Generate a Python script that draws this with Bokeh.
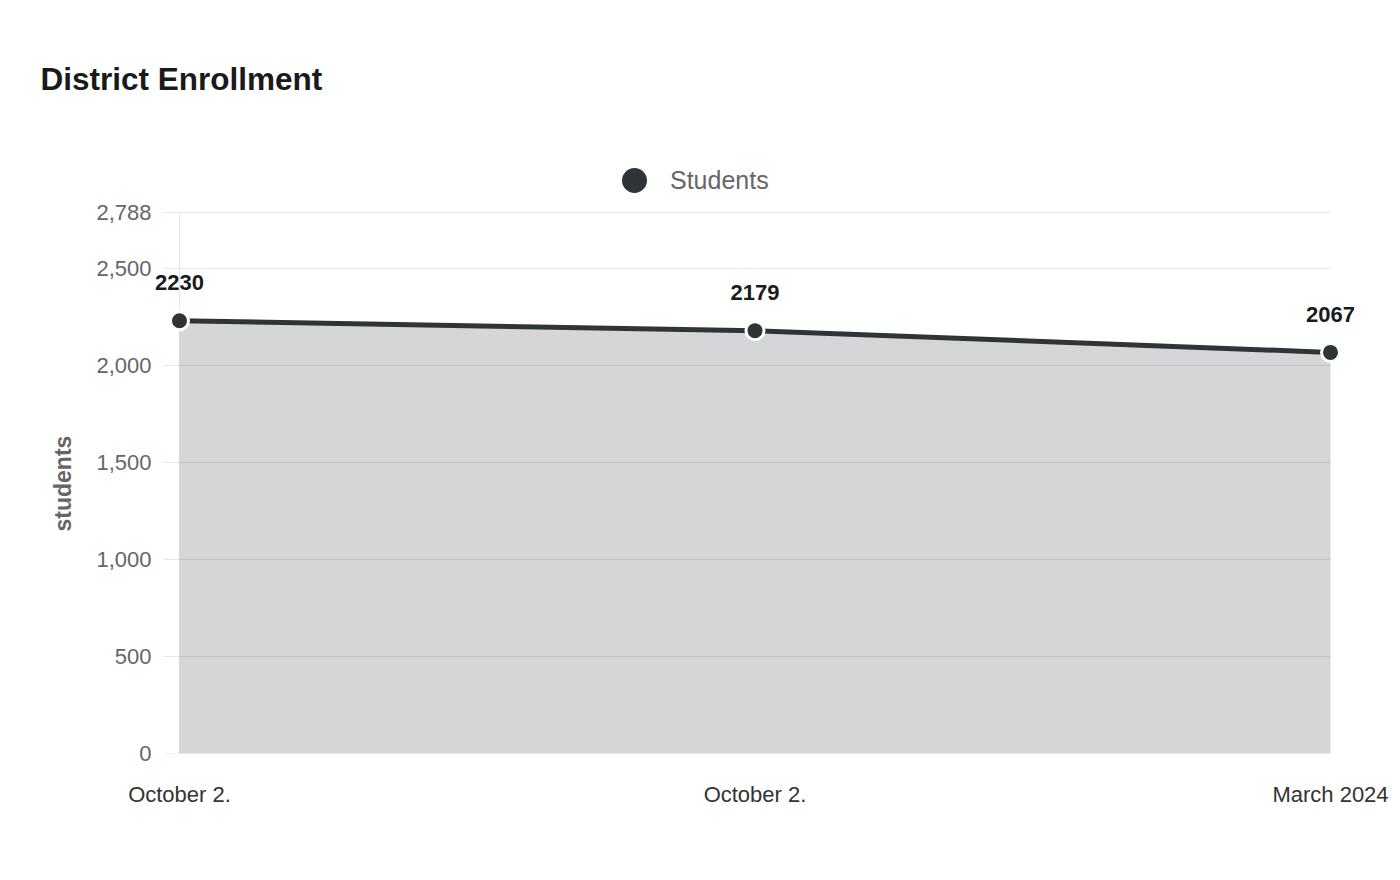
from bokeh.plotting import figure
from bokeh.models import (ColumnDataSource, Range1d, FixedTicker, NumeralTickFormatter,
                          LabelSet, Legend, LegendItem, Title)
from bokeh.core.properties import value
from bokeh.embed import file_html
from bokeh.resources import INLINE

# data
dates = ["October 2.", "October 2.", "March 2024"]
students = [2230, 2179, 2067]
y_ticks = [0, 500, 1000, 1500, 2000, 2500, 2788]

FONT = "Liberation Sans"
DARK = "#2f3437"
GRID = "#e6e6e6"

x = list(range(len(students)))
last = len(students) - 1
src = ColumnDataSource(data=dict(x=x, y=students, lbl=[str(v) for v in students]))

# px per x step and per y unit of the plot area that holds the data
step_px = 575.5
plot_h = 541
top_px = 120          # frame starts above the plot area so the legend isn't clipped
pad = 28 / step_px    # room for the edge labels
stub = 16 / step_px   # grid tick stubs left of the axis
y_top = y_ticks[-1] * (plot_h + (212 - top_px)) / plot_h

p = figure(width=1392, height=872, output_backend="svg", toolbar_location=None,
           x_range=Range1d(-pad, last + pad), y_range=Range1d(0, y_top),
           min_border_left=151, min_border_right=34,
           min_border_top=top_px, min_border_bottom=119)
p.outline_line_color = None
p.xgrid.visible = False
p.ygrid.visible = False

p.title.text = "District Enrollment"
p.title.text_font = FONT
p.title.text_font_size = "31.5px"
p.title.text_font_style = "bold"
p.title.text_color = "#1a1a1a"
p.title.align = "left"
p.title.offset = -111
p.title.standoff = 47

# grid lines (with the little tick stubs on the left), drawn under the area
p.segment(x0=[-stub] * len(y_ticks), x1=[last] * len(y_ticks), y0=y_ticks, y1=y_ticks,
          line_color=GRID, line_width=1, level="underlay")
p.segment(x0=[0], x1=[0], y0=[0], y1=[y_ticks[-1]],
          line_color=GRID, line_width=1, level="underlay")

p.varea(x=x, y1=[0] * len(students), y2=students, fill_color=DARK, fill_alpha=0.2)
p.line(x, students, line_width=5, line_color=DARK)
pts = p.scatter("x", "y", source=src, size=18, fill_color=DARK,
                line_color="white", line_width=3)

labels = LabelSet(x="x", y="y", text="lbl", source=src, y_offset=38,
                  text_align="center", text_baseline="middle",
                  text_font=value(FONT), text_font_size="22px", text_font_style="bold",
                  text_color="#1a1a1a")
p.add_layout(labels)

# y axis
p.yaxis.ticker = FixedTicker(ticks=y_ticks)
p.yaxis.formatter = NumeralTickFormatter(format="0,0")
p.yaxis.axis_line_color = None
p.yaxis.major_tick_line_color = None
p.yaxis.major_tick_out = 0
p.yaxis.minor_tick_line_color = None
p.yaxis.major_label_standoff = 0
p.yaxis.major_label_text_font = FONT
p.yaxis.major_label_text_font_size = "22px"
p.yaxis.major_label_text_color = "#666666"

# y axis title, placed along the data area rather than the whole frame
ytitle = Title(text="students", align="left", offset=222, standoff=36,
               text_font=FONT, text_font_size="23px", text_font_style="bold",
               text_color="#666666")
p.add_layout(ytitle, "left")

# x axis
p.xaxis.ticker = FixedTicker(ticks=x)
p.xaxis.major_label_overrides = {i: d for i, d in zip(x, dates)}
p.xaxis.axis_line_color = None
p.xaxis.major_tick_line_color = None
p.xaxis.major_tick_out = 0
p.xaxis.minor_tick_line_color = None
p.xaxis.major_label_standoff = 28
p.xaxis.major_label_text_font = FONT
p.xaxis.major_label_text_font_size = "22px"
p.xaxis.major_label_text_color = "#333333"

legend = Legend(items=[LegendItem(label="Students", renderers=[pts])],
                location=(447, 538), orientation="horizontal",
                glyph_width=72, glyph_height=70, label_standoff=0,
                padding=0, margin=0, border_line_color=None,
                background_fill_alpha=0,
                label_text_font=FONT, label_text_font_size="25px",
                label_text_color="#666666")
p.add_layout(legend)

open("out.html", "w").write(file_html(p, INLINE))
